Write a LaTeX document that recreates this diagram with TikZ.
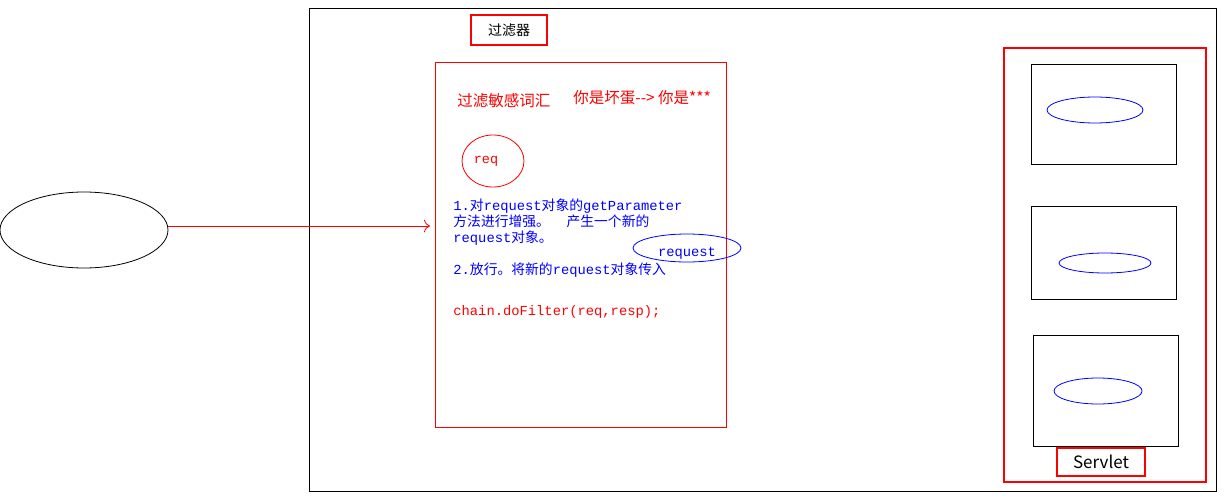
\documentclass[tikz,border=0pt]{standalone}
\usepackage{fontspec}
\setmainfont{Noto Sans CJK SC}
\newfontfamily\mono{Liberation Mono}
\newfontfamily\cjk{Noto Sans CJK SC}
\usetikzlibrary{shapes.geometric,arrows.meta}
\begin{document}
\begin{tikzpicture}[x=1pt,y=-1pt,line width=0.8pt,
  lab/.style={inner sep=0pt,anchor=west},
  bl/.style={lab,text=blue,font=\fontsize{13.8}{13.8}\selectfont},
  rbox/.style={draw=red,line width=2pt}]
\useasboundingbox[fill=white] (0,0) rectangle (1225,500);
\draw (309,8) rectangle (1216,491);
\node[rbox,minimum width=76pt,minimum height=30pt,font=\fontsize{14}{14}\selectfont] (title) at (509,30) {过滤器};
\draw[red] (435,62) rectangle (726,427);
\node[draw,ellipse,minimum width=168pt,minimum height=76pt] (client) at (84,230) {};
\coordinate (fin) at (430,226);
\draw[red,-{To[length=6pt]}] (client.east |- fin) -- (fin);
\node[lab,text=red,font=\fontsize{15.5}{15.5}\selectfont] (t1) at (457,101) {过滤敏感词汇};
\node[lab,text=red,font=\fontsize{15.5}{15.5}\selectfont] (t2) at (573,98) {你是坏蛋-{}-> 你是***};
\node[draw=red,ellipse,minimum width=62pt,minimum height=52pt] (req) at (493,161) {};
\node[text=red,font=\mono\fontsize{13.5}{13.5}\selectfont] (reqt) at (486,161) {req};
\node[bl] (l1) at (453,206) {\mono 1.\cjk 对\mono request\cjk 对象的\mono getParameter};
\node[bl] (l2) at (453,221) {方法进行增强。\hspace{1.2em}产生一个新的};
\node[bl] (l3) at (453,238) {\mono request\cjk 对象。};
\node[draw=blue,ellipse,minimum width=108pt,minimum height=28pt] (reqo) at (687,248) {};
\node[text=blue,font=\mono\fontsize{13.8}{13.8}\selectfont,inner sep=0pt] (reqot) at (687,253) {request};
\node[bl] (l4) at (453,270) {\mono 2.\cjk 放行。将新的\mono request\cjk 对象传入};
\node[lab,text=red,font=\mono\fontsize{13.8}{13.8}\selectfont] (l5) at (453,312) {chain.doFilter(req,resp);};
\draw[rbox] (1004,48) rectangle (1206,482);
\node[rbox,minimum width=88pt,minimum height=28pt,font=\fontsize{17}{17}\selectfont,fill=white] (sv) at (1101,462) {Servlet};
\node[draw,minimum width=145pt,minimum height=100pt] (s1) at (1103.5,114) {};
\node[draw,minimum width=145pt,minimum height=93pt] (s2) at (1103.5,252.5) {};
\node[draw,minimum width=145pt,minimum height=111pt] (s3) at (1105.5,390.5) {};
\node[draw=blue,ellipse,minimum width=96pt,minimum height=26pt] (e1) at (1095,110) {};
\node[draw=blue,ellipse,minimum width=92pt,minimum height=20pt] (e2) at (1105,263) {};
\node[draw=blue,ellipse,minimum width=88pt,minimum height=26pt] (e3) at (1098,391) {};
\end{tikzpicture}
\end{document}
